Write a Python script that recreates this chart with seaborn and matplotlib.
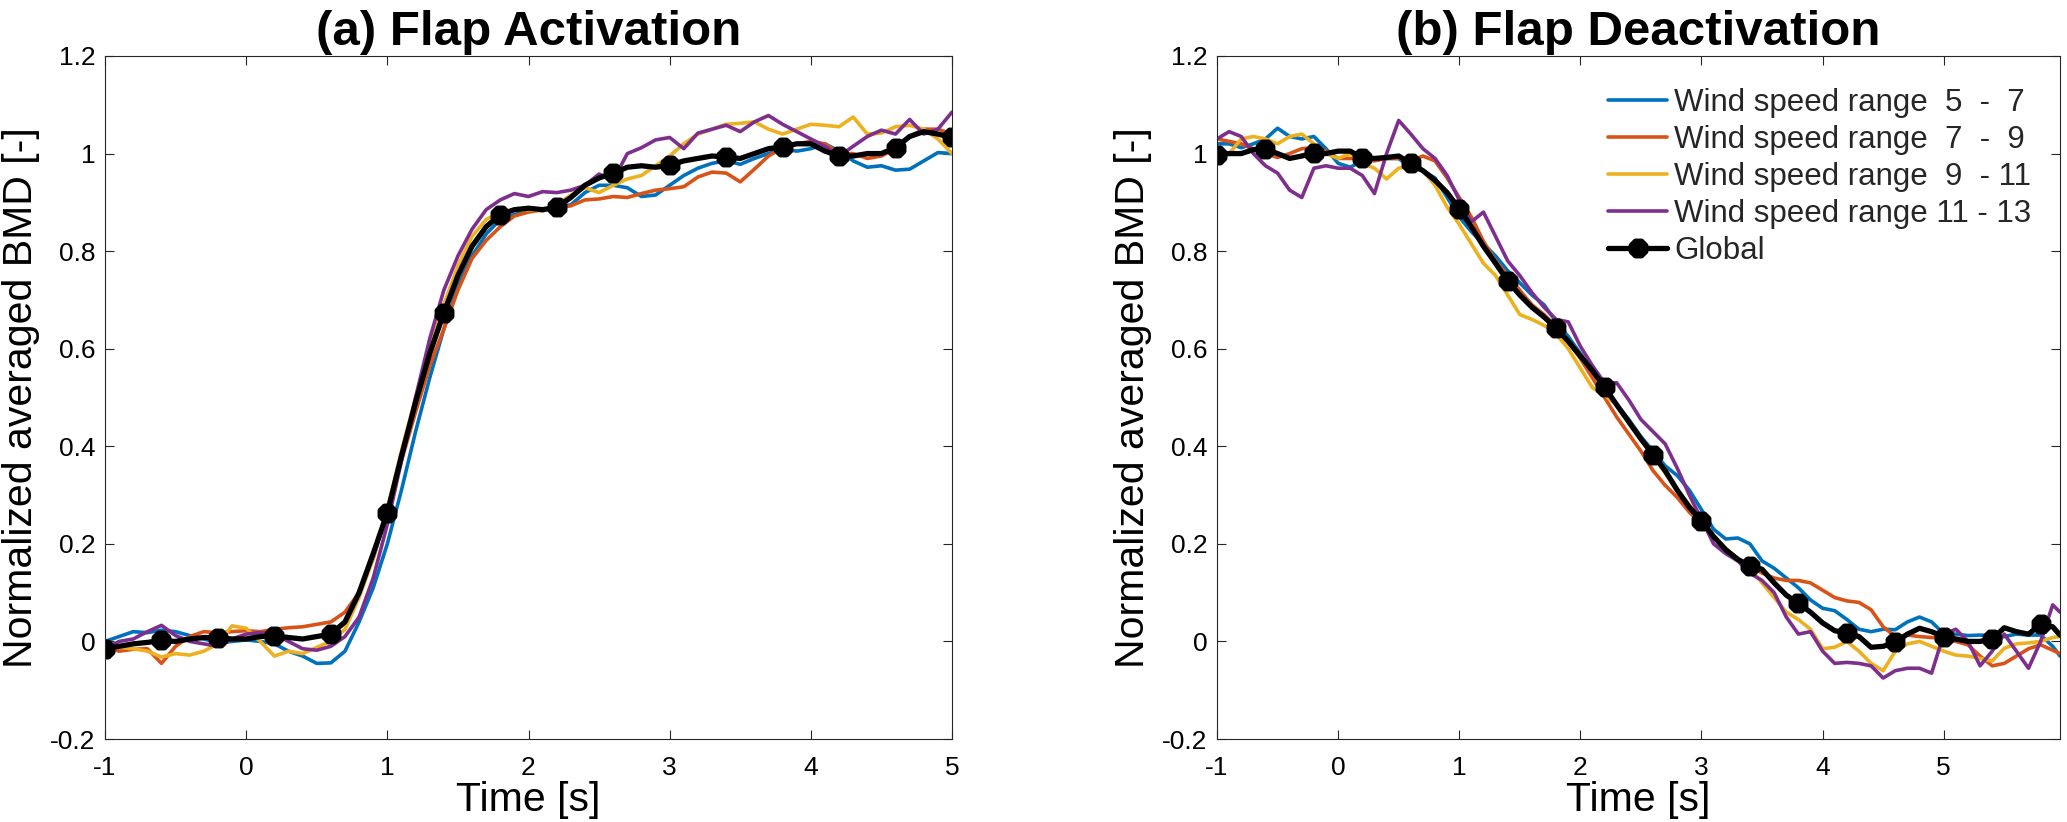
import numpy as np
import pandas as pd
import matplotlib
matplotlib.use("Agg")
import matplotlib.pyplot as plt
import seaborn as sns

# --- data ---
ranges = ["Wind speed range  5  -  7", "Wind speed range  7  -  9",
          "Wind speed range  9  - 11", "Wind speed range 11 - 13"]
colors = ["#0072BD", "#D95319", "#EDB120", "#7E2F8E"]

# (a) activation, sampled every 0.1 s from -1 to 5
t_a = np.round(np.arange(-1.0, 5.05, 0.1), 2)
blue_a = [0.0, 0.01, 0.02, 0.018, 0.023, 0.02, 0.012, 0.005, -0.003, 0.0,
          0.003, 0.0, -0.005, -0.02, -0.03, -0.045, -0.044, -0.02, 0.04, 0.11,
          0.2, 0.31, 0.43, 0.54, 0.64, 0.73, 0.79, 0.835, 0.865, 0.875,
          0.885, 0.885, 0.89, 0.895, 0.92, 0.935, 0.935, 0.93, 0.912, 0.915,
          0.935, 0.955, 0.97, 0.98, 0.985, 0.978, 0.99, 1.0, 1.01, 1.005,
          1.01, 1.02, 1.005, 0.985, 0.972, 0.975, 0.966, 0.968, 0.985, 1.002,
          1.0]
orange_a = [-0.01, -0.02, -0.016, -0.015, -0.045, -0.01, 0.01, 0.02, 0.018, 0.02,
            0.022, 0.02, 0.025, 0.028, 0.03, 0.035, 0.04, 0.06, 0.10, 0.17,
            0.27, 0.37, 0.47, 0.565, 0.64, 0.72, 0.785, 0.822, 0.85, 0.872,
            0.88, 0.885, 0.888, 0.893, 0.905, 0.907, 0.912, 0.91, 0.918, 0.925,
            0.928, 0.932, 0.952, 0.962, 0.96, 0.942, 0.968, 0.995, 1.012, 1.02,
            1.025, 1.02, 1.0, 1.0, 0.99, 0.995, 1.01, 1.035, 1.05, 1.05,
            1.04]
yellow_a = [-0.01, -0.012, -0.015, -0.02, -0.032, -0.025, -0.028, -0.02, -0.005, 0.032,
            0.027, 0.0, -0.03, -0.02, -0.025, -0.012, 0.0, 0.025, 0.09, 0.17,
            0.27, 0.39, 0.5, 0.6, 0.69, 0.77, 0.83, 0.865, 0.88, 0.885,
            0.885, 0.882, 0.895, 0.915, 0.93, 0.92, 0.935, 0.948, 0.955, 0.975,
            0.995, 1.02, 1.04, 1.05, 1.06, 1.062, 1.065, 1.05, 1.04, 1.05,
            1.06, 1.058, 1.055, 1.075, 1.04, 1.042, 1.055, 1.058, 1.05, 1.03,
            1.0]
purple_a = [-0.015, 0.0, 0.005, 0.02, 0.033, 0.012, 0.0, -0.005, -0.01, 0.005,
            0.015, 0.018, 0.015, 0.0, -0.015, -0.018, -0.01, 0.01, 0.05, 0.13,
            0.24, 0.37, 0.5, 0.62, 0.72, 0.79, 0.845, 0.885, 0.905, 0.918,
            0.912, 0.922, 0.92, 0.925, 0.935, 0.958, 0.945, 1.0, 1.012, 1.028,
            1.033, 1.01, 1.042, 1.05, 1.058, 1.045, 1.065, 1.078, 1.06, 1.045,
            1.03, 1.015, 0.995, 1.015, 1.035, 1.048, 1.04, 1.07, 1.04, 1.05,
            1.085]
global_a = [-0.015, -0.01, -0.005, -0.002, 0.002, 0.0, 0.005, 0.008, 0.008, 0.005,
            0.005, 0.01, 0.012, 0.008, 0.005, 0.01, 0.015, 0.04, 0.1, 0.18,
            0.264, 0.38, 0.49, 0.59, 0.673, 0.75, 0.81, 0.85, 0.875, 0.885,
            0.888, 0.885, 0.89, 0.91, 0.935, 0.95, 0.96, 0.972, 0.975, 0.972,
            0.976, 0.985, 0.99, 0.995, 0.993, 0.99, 1.0, 1.01, 1.014, 1.02,
            1.02, 1.005, 0.995, 0.995, 1.0, 1.0, 1.012, 1.035, 1.045, 1.04,
            1.033]

# (b) deactivation, sampled every 0.1 s from -1 to 5.9, plus the last sample
t_b = np.append(np.round(np.arange(-1.0, 5.95, 0.1), 2), 5.96)
blue_b = [1.02, 1.02, 1.012, 1.02, 1.03, 1.052, 1.035, 1.03, 1.035, 1.01,
          0.98, 0.972, 0.985, 0.99, 0.99, 0.99, 0.97, 0.965, 0.95, 0.91,
          0.87, 0.84, 0.815, 0.79, 0.76, 0.735, 0.71, 0.69, 0.655, 0.625,
          0.59, 0.555, 0.52, 0.485, 0.455, 0.42, 0.39, 0.36, 0.34, 0.31,
          0.27, 0.23, 0.21, 0.212, 0.2, 0.165, 0.15, 0.13, 0.11, 0.085,
          0.068, 0.063, 0.045, 0.025, 0.02, 0.025, 0.024, 0.04, 0.05, 0.04,
          0.016, 0.015, 0.012, 0.013, 0.012, 0.01, 0.015, 0.013, 0.013, -0.01,
          -0.03]
orange_b = [1.03, 1.025, 1.02, 1.01, 1.0, 0.992, 1.0, 1.01, 1.012, 1.005,
            0.99, 0.99, 0.99, 0.985, 0.99, 0.99, 0.985, 0.995, 0.985, 0.95,
            0.91, 0.87, 0.82, 0.78, 0.75, 0.72, 0.69, 0.67, 0.645, 0.615,
            0.58, 0.54, 0.5, 0.46, 0.425, 0.39, 0.35, 0.32, 0.295, 0.265,
            0.24, 0.215, 0.19, 0.17, 0.155, 0.14, 0.13, 0.125, 0.125, 0.12,
            0.105, 0.09, 0.083, 0.08, 0.065, 0.03, 0.01, 0.013, 0.01, 0.008,
            0.006, 0.0, -0.007, -0.03, -0.05, -0.045, -0.03, -0.015, -0.007, -0.018,
            -0.025]
yellow_b = [1.0, 1.0, 1.03, 1.035, 1.03, 1.02, 1.035, 1.04, 1.02, 1.0,
            0.99, 1.0, 0.98, 0.97, 0.948, 0.97, 0.975, 0.965, 0.935, 0.89,
            0.855, 0.815, 0.775, 0.75, 0.71, 0.67, 0.66, 0.648, 0.63, 0.6,
            0.56, 0.52, 0.505, 0.485, 0.45, 0.415, 0.38, 0.345, 0.31, 0.28,
            0.25, 0.215, 0.19, 0.165, 0.15, 0.12, 0.09, 0.06, 0.045, 0.025,
            -0.015, -0.012, 0.0, -0.02, -0.045, -0.06, -0.02, -0.005, 0.0, -0.01,
            -0.02, -0.028, -0.03, -0.035, -0.04, -0.014, -0.005, -0.003, 0.0, 0.008,
            0.01]
purple_b = [1.03, 1.045, 1.035, 1.0, 0.975, 0.96, 0.925, 0.91, 0.97, 0.975,
            0.97, 0.97, 0.955, 0.918, 1.0, 1.068, 1.04, 1.01, 0.99, 0.955,
            0.905, 0.86, 0.88, 0.83, 0.78, 0.75, 0.715, 0.685, 0.66, 0.655,
            0.605, 0.565, 0.53, 0.53, 0.495, 0.455, 0.43, 0.405, 0.355, 0.3,
            0.25, 0.2, 0.18, 0.165, 0.14, 0.125, 0.1, 0.05, 0.015, 0.02,
            -0.02, -0.045, -0.043, -0.045, -0.05, -0.075, -0.06, -0.055, -0.055, -0.065,
            0.015, 0.025, 0.0, -0.05, -0.02, 0.015, -0.02, -0.055, 0.0, 0.075,
            0.06]
global_b = [0.998, 1.0, 1.0, 1.008, 1.01, 1.0, 0.99, 0.995, 1.002, 1.0,
            1.005, 1.005, 0.991, 0.99, 0.992, 0.995, 0.98, 0.965, 0.945, 0.92,
            0.887, 0.85, 0.81, 0.775, 0.739, 0.71, 0.685, 0.665, 0.642, 0.615,
            0.585, 0.555, 0.521, 0.485, 0.45, 0.415, 0.383, 0.35, 0.31, 0.275,
            0.247, 0.215, 0.188, 0.168, 0.155, 0.148, 0.12, 0.095, 0.078, 0.06,
            0.038, 0.022, 0.017, 0.01, -0.012, -0.01, -0.002, 0.015, 0.027, 0.02,
            0.01, 0.005, 0.0, 0.0, 0.005, 0.028, 0.02, 0.015, 0.035, 0.03,
            0.013]

yticks = [-0.2, 0, 0.2, 0.4, 0.6, 0.8, 1.0, 1.2]
ytick_labels = ["-0.2", "0", "0.2", "0.4", "0.6", "0.8", "1", "1.2"]
xticks = [-1, 0, 1, 2, 3, 4, 5]
xtick_labels = ["-1", "0", "1", "2", "3", "4", "5"]

sns.set_style("ticks")
plt.rcParams['font.family'] = ['Liberation Sans', 'DejaVu Sans']


def draw_panel(ax, t, series, glob, title, xmax):
    df = pd.DataFrame({
        "Time": np.tile(t, len(series)),
        "BMD": np.concatenate(series),
        "range": np.repeat(ranges, len(t)),
    })
    sns.lineplot(data=df, x="Time", y="BMD", hue="range", hue_order=ranges,
                 palette=colors, linewidth=2.6, errorbar=None, sort=False,
                 legend=False, ax=ax)
    # global average with star markers every 0.4 s
    sns.lineplot(x=t, y=glob, color="k", linewidth=3.8, marker=(8, 2, 0),
                 markersize=14, markeredgewidth=5.5, markeredgecolor="k",
                 markerfacecolor="k", markevery=4, errorbar=None, sort=False,
                 legend=False, ax=ax)
    ax.set_xlim(-1, xmax)
    ax.set_ylim(-0.2, 1.2)
    ax.set_xticks(xticks, labels=xtick_labels)
    ax.set_yticks(yticks, labels=ytick_labels)
    ax.tick_params(axis="both", direction="in", length=6.5, width=0.8,
                   top=True, right=True, labelsize=19, colors="#262626",
                   labelcolor="black")
    ax.tick_params(axis="x", pad=12)
    ax.tick_params(axis="y", pad=7)
    for sp in ax.spines.values():
        sp.set_visible(True)
        sp.set_linewidth(0.8)
        sp.set_color("#262626")
    ax.set_xlabel("Time [s]", fontsize=29.5, color="black")
    ax.set_ylabel("Normalized averaged BMD [-]", fontsize=29.5, color="black")
    ax.yaxis.set_label_coords(-0.077, 0.5)
    ax.xaxis.set_label_coords(0.5, -0.062)
    ax.set_title(title, fontsize=35.5, fontweight="bold", pad=8, color="black")


fig = plt.figure(figsize=(20.67, 8.22), dpi=100)
ax1 = fig.add_axes([105 / 2067, 83 / 822, 847 / 2067, 683 / 822])
ax2 = fig.add_axes([1217 / 2067, 83 / 822, 843 / 2067, 683 / 822])

draw_panel(ax1, t_a, [blue_a, orange_a, yellow_a, purple_a], global_a,
           "(a) Flap Activation", 5)
draw_panel(ax2, t_b, [blue_b, orange_b, yellow_b, purple_b], global_b,
           "(b) Flap Deactivation", 5.96)

handles = ax2.lines[:5]
ax2.legend(handles, ranges + ["Global"], loc="upper left",
           bbox_to_anchor=(0.4638, 0.953), frameon=False, fontsize=22.5,
           handlelength=1.9, handletextpad=0.22, labelspacing=0.22,
           borderpad=0, borderaxespad=0)

fig.savefig("out.png", dpi=100)
